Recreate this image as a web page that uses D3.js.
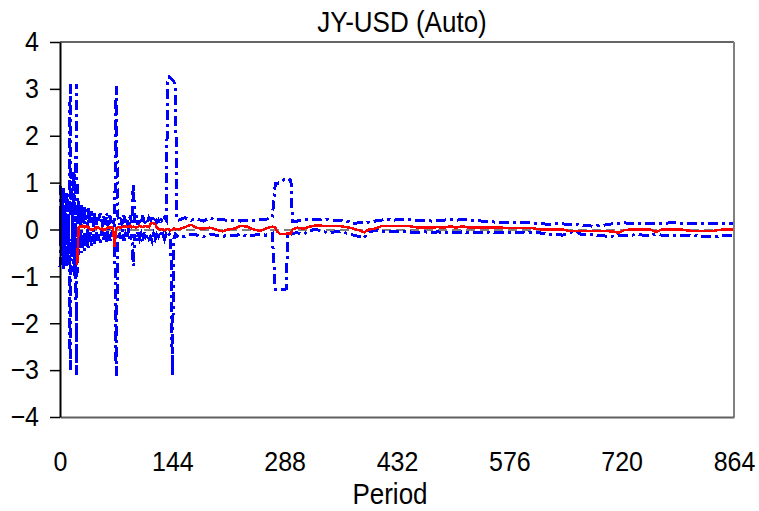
<!DOCTYPE html>
<html>
<head>
<meta charset="utf-8">
<script src="https://cdn.jsdelivr.net/npm/d3@7"></script>
<style>
body { margin: 0; background: #fff; }
text {
	font-family: "Liberation Sans", Arial, sans-serif; fill: #000;
	transform-box: fill-box; transform-origin: center; transform: scaleY(1.1);
}
</style>
</head>
<body>
<svg id="chart" width="759" height="511"></svg>
<script>
// early periods, one by one (the noisy start)
var periodA = [0,1,2,3,4,5,6,7,8,9,10,11,12,13,14,15,16,17,18,19,20,21,22,23,24,25,26,27,28,29,
	30,31,32,33,34,35,36,37,38,39,40,41,42,43,44,45,46,47,48,49,50];
var upperA = [0.95,-0.2,0.85,-0.45,0.9,0.1,0.75,-0.3,0.8,0.2,
	0.65,-0.1,0.7,3.1,0.3,1.2,0.05,0.75,1.25,0.55,
	0.0,3.1,0.5,0.1,0.6,0.2,0.45,0.05,0.55,0.15,
	0.4,0.1,0.5,0.2,0.35,0.05,0.45,0.15,0.3,0.1,
	0.4,0.2,0.3,0.05,0.35,0.15,0.25,0.1,0.3,0.15,
	0.25];
var lowerA = [-0.8,0.4,-0.75,0.6,-0.85,0.0,-0.7,0.35,-0.8,-0.1,
	-0.6,0.2,-0.65,-3.0,-0.2,-0.55,0.1,-0.9,-0.1,-1.0,
	0.05,-3.1,-0.45,-0.05,-0.55,-0.15,-0.4,0.0,-0.5,-0.1,
	-0.35,-0.05,-0.45,-0.15,-0.3,0.0,-0.4,-0.1,-0.25,-0.05,
	-0.35,-0.15,-0.25,0.0,-0.3,-0.1,-0.2,-0.05,-0.25,-0.1,
	-0.2];
var estA = [null,null,null,null,null,null,null,null,null,null,
	null,null,null,null,null,null,null,null,null,null,
	null,null,-0.75,-0.3,0.04,0.05,0.07,0.06,0.07,0.08,
	0.06,0.07,0.05,0.06,0.07,0.05,0.03,0.04,0.02,0.0,
	0.01,0.0,-0.01,0.0,0.02,0.04,0.05,0.03,0.05,0.04,
	0.03];

// periods 52 to 150
var periodB = [52,54,56,58,60,62,64,66,68,70,72,74,76,78,80,82,84,86,88,90,
	92,94,96,98,100,102,104,106,108,110,112,114,116,118,120,122,124,126,128,130,
	132,134,136,138,140,142,144,146,148,150];
var upperB = [0.35,0.05,0.3,0.1,0.35,0.0,0.3,0.1,0.25,0.05,
	3.07,0.3,0.1,0.25,0.05,0.3,0.1,0.25,0.0,0.3,
	0.1,0.99,0.15,0.3,0.1,0.25,0.15,0.3,0.1,0.2,
	0.15,0.25,0.2,0.3,0.2,0.25,0.15,0.2,0.12,0.2,
	0.15,0.25,0.2,3.15,3.25,3.22,3.2,3.15,3.1,0.2];
var lowerB = [-0.3,0.0,-0.25,-0.05,-0.3,0.05,-0.25,-0.1,-0.2,-0.05,
	-3.12,-0.25,-0.05,-0.2,0.0,-0.25,-0.1,-0.2,0.0,-0.25,
	-0.1,-0.78,-0.1,-0.25,-0.05,-0.2,-0.1,-0.25,-0.05,-0.15,
	-0.1,-0.2,-0.15,-0.25,-0.1,-0.2,-0.1,-0.15,-0.05,-0.15,
	-0.1,-0.2,-0.1,-0.15,-0.1,-0.2,-3.12,-0.2,-0.1,-0.15];
var estB = [0.0,0.02,-0.02,0.0,0.03,0.05,0.04,0.05,0.03,-0.37,
	0.02,0.05,0.05,0.04,0.06,0.05,0.07,0.05,0.06,0.08,
	0.05,0.06,0.05,0.04,0.06,0.08,0.06,0.05,0.07,0.08,
	0.06,0.05,0.12,0.14,0.13,0.12,0.05,0.02,0.0,0.01,
	0.0,-0.02,0.0,0.01,0.0,-0.02,0.0,0.02,0.0,0.01];

// periods 152 to 864
var periodC = [152,160,168,176,184,192,200,208,216,224,232,240,248,256,264,272,
	276,278,282,286,290,292,296,298,
	304,312,320,328,336,344,352,360,368,376,384,390,396,
	404,412,420,428,436,444,452,460,468,476,484,492,500,508,516,524,532,540,548,556,564,572,580,588,596,604,
	612,620,628,636,644,652,660,668,676,684,692,700,708,716,724,732,740,748,756,764,772,780,788,796,804,812,820,828,836,844,852,860,864];
var upperC = [0.2,0.25,0.2,0.22,0.18,0.25,0.2,0.22,0.18,0.2,0.18,0.2,0.19,0.21,0.22,0.25,
	0.98,0.98,1.0,1.05,1.1,1.08,1.05,0.18,
	0.18,0.2,0.21,0.22,0.2,0.21,0.2,0.19,0.18,0.12,0.15,0.14,0.16,
	0.18,0.2,0.22,0.2,0.21,0.22,0.2,0.19,0.2,0.18,0.19,0.2,0.22,0.2,0.21,0.2,0.19,0.18,0.17,0.16,0.15,0.15,0.14,0.15,0.14,0.14,
	0.13,0.12,0.11,0.12,0.12,0.11,0.12,0.1,0.08,0.07,0.08,0.1,0.12,0.13,0.14,0.13,0.12,0.13,0.12,0.12,0.13,0.14,0.14,0.13,0.12,0.12,0.12,0.12,0.13,0.13,0.12,0.12,0.12];
var lowerC = [-0.12,-0.15,-0.1,-0.12,-0.15,-0.1,-0.12,-0.15,-0.12,-0.13,-0.1,-0.14,-0.12,-0.11,-0.12,-0.08,
	-1.27,-1.27,-1.27,-1.28,-1.27,-0.1,-0.1,-0.08,
	-0.07,-0.1,-0.02,0.0,-0.03,-0.08,-0.05,-0.04,-0.08,-0.12,-0.15,-0.18,-0.05,
	-0.02,-0.04,-0.05,-0.04,-0.05,-0.04,-0.06,-0.07,-0.05,-0.07,-0.05,-0.07,-0.05,-0.07,-0.05,-0.07,-0.06,-0.07,-0.06,-0.07,-0.06,-0.06,-0.06,-0.06,-0.07,-0.06,
	-0.06,-0.09,-0.11,-0.1,-0.12,-0.08,-0.03,-0.1,-0.11,-0.11,-0.13,-0.14,-0.14,-0.13,-0.12,-0.12,-0.11,-0.12,-0.12,-0.11,-0.12,-0.12,-0.12,-0.12,-0.12,-0.13,-0.14,-0.14,-0.14,-0.14,-0.13,-0.13,-0.13];
var estC = [0.0,0.05,0.1,0.03,0.02,0.04,0.0,-0.04,0.0,0.02,0.08,0.06,0.0,-0.03,0.02,0.06,
	0.05,-0.04,-0.09,-0.1,-0.09,-0.08,-0.08,0.0,
	0.04,0.02,0.06,0.09,0.08,0.07,0.07,0.07,0.05,0.02,-0.02,-0.06,0.0,
	0.02,0.07,0.08,0.08,0.08,0.08,0.06,0.04,0.04,0.04,0.05,0.04,0.07,0.04,0.07,0.04,0.04,0.04,0.04,0.04,0.04,0.035,0.035,0.035,0.035,0.035,
	0.01,0.0,0.0,0.0,0.0,-0.03,-0.035,-0.035,-0.035,-0.035,-0.035,-0.035,-0.04,-0.07,-0.01,0.0,0.0,0.0,0.0,-0.05,0.0,0.0,0.0,0.0,-0.02,-0.035,-0.035,-0.035,-0.035,-0.01,0.0,0.0,0.0];

var yTicks = [-4,-3,-2,-1,0,1,2,3,4];
var xTicks = [0,144,288,432,576,720,864];

var periods = periodA.concat(periodB, periodC);
var upper = upperA.concat(upperB, upperC);
var lower = lowerA.concat(lowerB, lowerC);
var estimate = estA.concat(estB, estC);

var plotLeft = 60, plotRight = 734, plotTop = 42, plotBottom = 417;

var svg = d3.select("#chart");

var x = d3.scaleLinear().domain([0, 864]).range([plotLeft, plotRight]);
var y = d3.scaleLinear().domain([-4, 4]).range([plotBottom, plotTop]);

function series(vals) {
	return periods.map(function (p, i) { return {p: p, v: vals[i]}; });
}

var line = d3.line()
	.defined(d => d.v != null)
	.x(d => x(d.p))
	.y(d => y(d.v));

// zero reference line
svg.append("line")
	.attr("x1", x(0)).attr("x2", x(864))
	.attr("y1", y(0)).attr("y2", y(0))
	.attr("stroke", "#808080")
	.attr("stroke-width", 2)
	.attr("stroke-dasharray", "9,5")
	.attr("shape-rendering", "crispEdges");

[upper, lower].forEach(function (band) {
	svg.append("path")
		.datum(series(band))
		.attr("fill", "none")
		.attr("stroke", "#0000ff")
		.attr("stroke-width", 3)
		.attr("stroke-dasharray", "10,4,3,4")
		.attr("shape-rendering", "crispEdges")
		.attr("d", line);
});

svg.append("path")
	.datum(series(estimate))
	.attr("fill", "none")
	.attr("stroke", "#ff0000")
	.attr("stroke-width", 2.5)
	.attr("shape-rendering", "crispEdges")
	.attr("d", line);

// frame
svg.append("line")
	.attr("x1", plotLeft).attr("x2", plotRight).attr("y1", plotTop).attr("y2", plotTop)
	.attr("stroke", "#333").attr("stroke-width", 1.5);
svg.append("line")
	.attr("x1", plotRight).attr("x2", plotRight).attr("y1", plotTop).attr("y2", plotBottom)
	.attr("stroke", "#808080").attr("stroke-width", 2);

var xAxis = d3.axisBottom(x)
	.tickValues(xTicks)
	.tickSize(0)
	.tickSizeOuter(0)
	.tickPadding(35);
var xg = svg.append("g")
	.attr("transform", "translate(0," + plotBottom + ")")
	.call(xAxis);
xg.select(".domain").attr("stroke", "#606060").attr("stroke-width", 2);
xg.selectAll("text").attr("font-size", 25).attr("font-family", null);

var yAxis = d3.axisLeft(y)
	.tickValues(yTicks)
	.tickSize(10)
	.tickSizeOuter(0)
	.tickPadding(11);
var yg = svg.append("g")
	.attr("transform", "translate(" + plotLeft + ",0)")
	.call(yAxis);
yg.select(".domain").attr("stroke", "#000").attr("stroke-width", 2);
yg.selectAll(".tick line").attr("stroke", "#000").attr("stroke-width", 1.5);
yg.selectAll("text").attr("font-size", 25).attr("font-family", null);

svg.append("text")
	.attr("x", 402).attr("y", 31)
	.attr("text-anchor", "middle")
	.attr("font-size", 26)
	.text("JY-USD (Auto)");

svg.append("text")
	.attr("x", 390).attr("y", 503)
	.attr("text-anchor", "middle")
	.attr("font-size", 26)
	.text("Period");
</script>
</body>
</html>
